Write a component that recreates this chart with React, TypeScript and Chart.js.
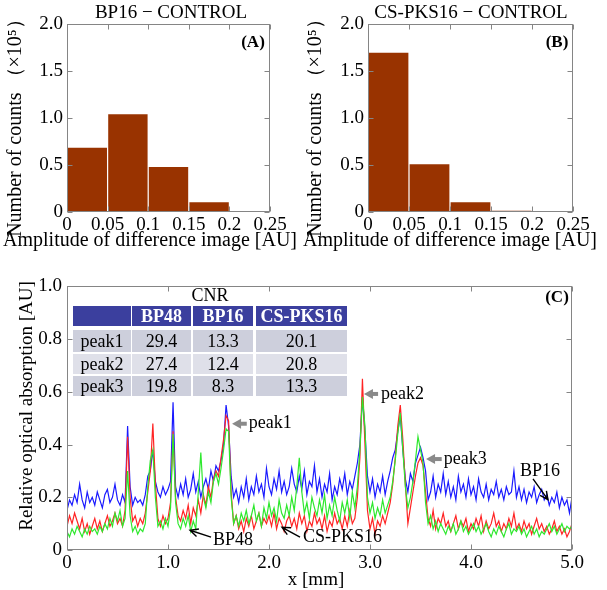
import React, { useEffect, useRef } from 'react';
import { Chart, registerables } from 'chart.js';

Chart.register(...registerables);

const FONT = "'Liberation Serif', 'Times New Roman', Times, serif";

// ---------- histogram data (counts x 10^5) ----------
const BIN_CENTERS = [0.025, 0.075, 0.125, 0.175, 0.225];
const BP16_COUNTS = [0.684, 1.039, 0.479, 0.103, 0.01];
const CSPKS16_COUNTS = [1.695, 0.507, 0.103, 0.014, 0];
const HIST_X_TICKS = [0, 0.05, 0.1, 0.15, 0.2, 0.25];
const HIST_X_LABELS = ['0', '0.05', '0.1', '0.15', '0.2', '0.25'];
const HIST_Y_TICKS = [0, 0.5, 1, 1.5, 2];
const HIST_Y_LABELS = ['0', '0.5', '1.0', '1.5', '2.0'];

// ---------- profile data ----------
const PROFILE_X_TICKS = [0, 1, 2, 3, 4, 5];
const PROFILE_X_LABELS = ['0', '1.0', '2.0', '3.0', '4.0', '5.0'];
const PROFILE_Y_TICKS = [0, 0.2, 0.4, 0.6, 0.8, 1.0];
const PROFILE_Y_LABELS = ['0', '0.2', '0.4', '0.6', '0.8', '1.0'];
const X_STEP_MM = 0.025;

const BP16_PROFILE = [
  0.15, 0.19, 0.17, 0.21, 0.18, 0.25, 0.19, 0.16, 0.22, 0.18,
  0.20, 0.17, 0.22, 0.19, 0.16, 0.21, 0.23, 0.18, 0.20, 0.25,
  0.19, 0.17, 0.21, 0.18, 0.47, 0.24, 0.17, 0.20, 0.18, 0.19,
  0.17, 0.21, 0.28, 0.30, 0.38, 0.26, 0.22, 0.20, 0.24, 0.21,
  0.23, 0.26, 0.56, 0.24, 0.20, 0.25, 0.21, 0.27, 0.20, 0.23,
  0.29, 0.22, 0.26, 0.20, 0.24, 0.27, 0.23, 0.30, 0.26, 0.32,
  0.30, 0.34, 0.40, 0.55, 0.47, 0.28, 0.20, 0.23, 0.18, 0.24,
  0.20, 0.27, 0.19, 0.24, 0.21, 0.28, 0.22, 0.25, 0.20, 0.31,
  0.24, 0.21, 0.27, 0.23, 0.30, 0.22, 0.26, 0.21, 0.24, 0.31,
  0.25, 0.22, 0.28, 0.23, 0.30, 0.21, 0.26, 0.24, 0.32, 0.22,
  0.27, 0.20, 0.25, 0.22, 0.29, 0.19, 0.24, 0.21, 0.27, 0.23,
  0.29, 0.21, 0.26, 0.23, 0.28, 0.33, 0.40, 0.58, 0.45, 0.28,
  0.22, 0.27, 0.20, 0.25, 0.22, 0.28, 0.21, 0.26, 0.30, 0.35,
  0.38, 0.45, 0.51, 0.38, 0.27, 0.22, 0.29, 0.26, 0.33, 0.36,
  0.39, 0.35, 0.30, 0.19, 0.22, 0.28, 0.20, 0.25, 0.22, 0.29,
  0.21, 0.26, 0.20, 0.24, 0.19, 0.28, 0.22, 0.25, 0.20, 0.27,
  0.21, 0.24, 0.19, 0.27, 0.22, 0.20, 0.25, 0.19, 0.23, 0.21,
  0.26, 0.20, 0.23, 0.19, 0.24, 0.21, 0.22, 0.30, 0.20, 0.24,
  0.19, 0.23, 0.18, 0.22, 0.20, 0.24, 0.18, 0.21, 0.23, 0.19,
  0.21, 0.17, 0.20, 0.18, 0.22, 0.16, 0.20, 0.17, 0.19, 0.14,
  0.20,
];

const BP48_PROFILE = [
  0.09, 0.13, 0.10, 0.14, 0.11, 0.08, 0.12, 0.07, 0.10, 0.06,
  0.09, 0.12, 0.08, 0.11, 0.07, 0.10, 0.13, 0.09, 0.11, 0.14,
  0.10, 0.12, 0.09, 0.15, 0.43, 0.20, 0.11, 0.13, 0.09, 0.12,
  0.10, 0.14, 0.22, 0.30, 0.48, 0.25, 0.12, 0.09, 0.13, 0.10,
  0.12, 0.18, 0.45, 0.20, 0.13, 0.11, 0.15, 0.12, 0.17, 0.10,
  0.16, 0.13, 0.19, 0.14, 0.21, 0.17, 0.24, 0.20, 0.27, 0.30,
  0.28, 0.35, 0.42, 0.51, 0.49, 0.22, 0.10, 0.13, 0.08, 0.11,
  0.07, 0.12, 0.09, 0.13, 0.08, 0.11, 0.14, 0.09, 0.12, 0.10,
  0.13, 0.09, 0.14, 0.08, 0.12, 0.10, 0.07, 0.11, 0.13, 0.09,
  0.12, 0.08, 0.14, 0.10, 0.13, 0.07, 0.11, 0.09, 0.14, 0.10,
  0.12, 0.08, 0.13, 0.07, 0.11, 0.09, 0.14, 0.10, 0.12, 0.08,
  0.13, 0.09, 0.15, 0.10, 0.12, 0.20, 0.35, 0.65, 0.40, 0.15,
  0.08, 0.12, 0.06, 0.11, 0.09, 0.13, 0.10, 0.14, 0.18, 0.25,
  0.35, 0.47, 0.55, 0.42, 0.25, 0.10, 0.16, 0.22, 0.28, 0.33,
  0.35, 0.32, 0.22, 0.12, 0.09, 0.15, 0.08, 0.12, 0.10, 0.14,
  0.09, 0.11, 0.07, 0.10, 0.13, 0.08, 0.11, 0.09, 0.12, 0.07,
  0.10, 0.08, 0.12, 0.09, 0.13, 0.07, 0.11, 0.08, 0.10, 0.14,
  0.09, 0.11, 0.07, 0.10, 0.08, 0.12, 0.09, 0.14, 0.08, 0.10,
  0.07, 0.11, 0.08, 0.10, 0.06, 0.09, 0.12, 0.08, 0.10, 0.07,
  0.09, 0.06, 0.08, 0.11, 0.07, 0.09, 0.06, 0.08, 0.05, 0.07,
  0.10,
];

const CSPKS16_PROFILE = [
  0.07, 0.05, 0.08, 0.06, 0.09, 0.07, 0.05, 0.08, 0.06, 0.09,
  0.07, 0.08, 0.06, 0.09, 0.07, 0.10, 0.08, 0.12, 0.09, 0.14,
  0.11, 0.15, 0.09, 0.12, 0.30, 0.13, 0.07, 0.09, 0.06, 0.08,
  0.07, 0.10, 0.24, 0.34, 0.38, 0.20, 0.09, 0.11, 0.08, 0.12,
  0.09, 0.16, 0.44, 0.18, 0.10, 0.08, 0.12, 0.09, 0.13, 0.07,
  0.11, 0.08, 0.22, 0.37, 0.20, 0.16, 0.22, 0.18, 0.26, 0.29,
  0.25, 0.31, 0.38, 0.46, 0.45, 0.20, 0.10, 0.13, 0.09, 0.14,
  0.11, 0.15, 0.10, 0.13, 0.17, 0.11, 0.14, 0.09, 0.16, 0.12,
  0.18, 0.13, 0.16, 0.11, 0.19, 0.14, 0.12, 0.17, 0.13, 0.20,
  0.15, 0.24, 0.35, 0.22, 0.14, 0.18, 0.12, 0.20, 0.16, 0.13,
  0.19, 0.14, 0.21, 0.12, 0.17, 0.13, 0.20, 0.15, 0.11, 0.18,
  0.14, 0.19, 0.12, 0.22, 0.16, 0.24, 0.38, 0.58, 0.47, 0.20,
  0.14, 0.18, 0.12, 0.16, 0.13, 0.19, 0.14, 0.17, 0.20, 0.26,
  0.34, 0.44, 0.52, 0.38, 0.24, 0.16, 0.20, 0.26, 0.34, 0.43,
  0.38, 0.33, 0.18, 0.10, 0.13, 0.08, 0.11, 0.07, 0.10, 0.08,
  0.06, 0.09, 0.07, 0.10, 0.06, 0.08, 0.11, 0.07, 0.09, 0.06,
  0.08, 0.10, 0.07, 0.09, 0.06, 0.08, 0.10, 0.07, 0.05, 0.08,
  0.06, 0.09, 0.07, 0.05, 0.08, 0.10, 0.06, 0.08, 0.07, 0.09,
  0.06, 0.08, 0.05, 0.07, 0.09, 0.06, 0.08, 0.05, 0.07, 0.06,
  0.08, 0.10, 0.07, 0.09, 0.06, 0.08, 0.10, 0.07, 0.09, 0.08,
  0.09,
];

// ---------- CNR table ----------
const CNR_COLUMNS = ['BP48', 'BP16', 'CS-PKS16'];
const CNR_ROWS = ['peak1', 'peak2', 'peak3'];
const CNR_BP48 = [29.4, 27.4, 19.8];
const CNR_BP16 = [13.3, 12.4, 8.3];
const CNR_CSPKS16 = [20.1, 20.8, 13.3];

// ---------- styling / layout ----------
const BAR_COLOR = '#993300';
const FRAME_COLOR = '#858585';
const BLUE = '#1a1aff';
const RED = '#ff2424';
const GREEN = '#2ee82e';
const HEADER_BG = '#3b3f9e';
const ROW_BG = ['#cdcfdc', '#dfe0e9', '#cdcfdc'];
const TABLE_COL_LEFT = [73, 132, 193, 256];
const TABLE_COL_WIDTH = [58, 59, 60, 91];
const TABLE_ROW_TOP = [306, 330, 354, 376];
const TABLE_ROW_HEIGHT = [20, 22, 20, 20];

type Txt = { text: string; x: number; y: number; font: string; rotate?: boolean };
type Note = {
  kind: 'gray' | 'black';
  tip: [number, number];
  tail: [number, number];
  label: string;
  at: [number, number];
  align: CanvasTextAlign;
};

function makeDecor(texts: Txt[], notes: Note[] = []) {
  return {
    id: 'decor',
    afterDraw(chart: any) {
      const { ctx, chartArea: a } = chart;
      const xs = chart.scales.x;
      const ys = chart.scales.y;
      ctx.save();
      ctx.strokeStyle = FRAME_COLOR;
      ctx.lineWidth = 1;
      const L = Math.round(a.left) + 0.5;
      const R = Math.round(a.right) - 0.5;
      const T = Math.round(a.top) + 0.5;
      const B = Math.round(a.bottom) - 0.5;
      ctx.strokeRect(L, T, R - L, B - T);
      ctx.beginPath();
      xs.ticks.forEach((t: any) => {
        const p = Math.round(xs.getPixelForValue(t.value)) + 0.5;
        ctx.moveTo(p, B); ctx.lineTo(p, B - 5);
        ctx.moveTo(p, T); ctx.lineTo(p, T + 5);
      });
      ys.ticks.forEach((t: any) => {
        const p = Math.round(ys.getPixelForValue(t.value)) + 0.5;
        ctx.moveTo(L, p); ctx.lineTo(L + 5, p);
        ctx.moveTo(R, p); ctx.lineTo(R - 5, p);
      });
      ctx.stroke();

      ctx.fillStyle = '#000';
      ctx.textBaseline = 'middle';
      texts.forEach((t) => {
        ctx.font = t.font;
        ctx.textAlign = 'center';
        if (t.rotate) {
          ctx.save();
          ctx.translate(t.x, t.y);
          ctx.rotate(-Math.PI / 2);
          ctx.fillText(t.text, 0, 0);
          ctx.restore();
        } else {
          ctx.fillText(t.text, t.x, t.y);
        }
      });

      notes.forEach((n) => {
        const tx = xs.getPixelForValue(n.tip[0]);
        const ty = ys.getPixelForValue(n.tip[1]);
        const ex = xs.getPixelForValue(n.tail[0]);
        const ey = ys.getPixelForValue(n.tail[1]);
        const ang = Math.atan2(ty - ey, tx - ex);
        if (n.kind === 'gray') {
          const head = 9;
          const half = 5;
          ctx.strokeStyle = '#8a8a8a';
          ctx.fillStyle = '#8a8a8a';
          ctx.lineWidth = 4;
          ctx.beginPath();
          ctx.moveTo(ex, ey);
          ctx.lineTo(tx - head * Math.cos(ang) * 0.8, ty - head * Math.sin(ang) * 0.8);
          ctx.stroke();
          ctx.beginPath();
          ctx.moveTo(tx, ty);
          ctx.lineTo(tx - head * Math.cos(ang) + half * Math.sin(ang), ty - head * Math.sin(ang) - half * Math.cos(ang));
          ctx.lineTo(tx - head * Math.cos(ang) - half * Math.sin(ang), ty - head * Math.sin(ang) + half * Math.cos(ang));
          ctx.closePath();
          ctx.fill();
        } else {
          ctx.strokeStyle = '#000';
          ctx.lineWidth = 1.4;
          ctx.beginPath();
          ctx.moveTo(ex, ey);
          ctx.lineTo(tx, ty);
          const hl = 9;
          const spread = 0.45;
          ctx.moveTo(tx - hl * Math.cos(ang - spread), ty - hl * Math.sin(ang - spread));
          ctx.lineTo(tx, ty);
          ctx.lineTo(tx - hl * Math.cos(ang + spread), ty - hl * Math.sin(ang + spread));
          ctx.stroke();
        }
        ctx.fillStyle = '#000';
        ctx.font = `18px ${FONT}`;
        ctx.textAlign = n.align;
        ctx.textBaseline = 'middle';
        ctx.fillText(n.label, xs.getPixelForValue(n.at[0]), ys.getPixelForValue(n.at[1]));
      });
      ctx.restore();
    },
  };
}

function axis(
  min: number,
  max: number,
  ticks: number[],
  labels: string[],
  isX: boolean,
  fit: number,
  padding: number,
  fontSize: number,
) {
  return {
    type: 'linear' as const,
    min,
    max,
    offset: false,
    grid: { display: false, drawTicks: false },
    border: { display: false },
    afterBuildTicks: (s: any) => {
      s.ticks = ticks.map((v) => ({ value: v }));
    },
    afterFit: (s: any) => {
      if (isX) s.height = fit;
      else s.width = fit;
    },
    ticks: {
      autoSkip: false,
      maxRotation: 0,
      padding,
      color: '#000',
      font: { family: FONT, size: fontSize },
      callback: (_v: any, i: number) => labels[i],
    },
  };
}

function histConfig(counts: number[], texts: Txt[], rightPad: number, yWidth: number) {
  return {
    type: 'bar' as const,
    data: {
      datasets: [
        {
          data: BIN_CENTERS.map((x, i) => ({ x, y: counts[i] })),
          backgroundColor: BAR_COLOR,
          borderWidth: 0,
          barPercentage: 1,
          categoryPercentage: 0.97,
        },
      ],
    },
    options: {
      animation: false as const,
      responsive: false,
      events: [],
      layout: { padding: { top: 24, right: rightPad, left: 0, bottom: 0 } },
      plugins: { legend: { display: false }, tooltip: { enabled: false } },
      scales: {
        x: axis(0, 0.25, HIST_X_TICKS, HIST_X_LABELS, true, 40, 2, 19),
        y: axis(0, 2, HIST_Y_TICKS, HIST_Y_LABELS, false, yWidth, 4, 19),
      },
    },
    plugins: [makeDecor(texts)],
  };
}

const toPoints = (vals: number[]) => vals.map((y, i) => ({ x: i * X_STEP_MM, y }));

export default function App() {
  const aRef = useRef<HTMLCanvasElement>(null);
  const bRef = useRef<HTMLCanvasElement>(null);
  const cRef = useRef<HTMLCanvasElement>(null);

  useEffect(() => {
    Chart.defaults.font.family = FONT;
    Chart.defaults.color = '#000';

    const chartA = new Chart(
      aRef.current!,
      histConfig(
        BP16_COUNTS,
        [
          { text: 'BP16 − CONTROL', x: 171, y: 13, font: `19px ${FONT}` },
          { text: '(A)', x: 253, y: 43, font: `bold 17px ${FONT}` },
          { text: 'Amplitude of difference image [AU]', x: 150, y: 241, font: `20px ${FONT}` },
          { text: 'Number of counts （×10⁵）', x: 16, y: 123, font: `20px ${FONT}`, rotate: true },
        ],
        30,
        67,
      ) as any,
    );

    const chartB = new Chart(
      bRef.current!,
      histConfig(
        CSPKS16_COUNTS,
        [
          { text: 'CS-PKS16 − CONTROL', x: 171, y: 13, font: `19px ${FONT}` },
          { text: '(B)', x: 257, y: 43, font: `bold 17px ${FONT}` },
          { text: 'Amplitude of difference image [AU]', x: 150, y: 241, font: `20px ${FONT}` },
          { text: 'Number of counts （×10⁵）', x: 16, y: 123, font: `20px ${FONT}`, rotate: true },
        ],
        34,
        68,
      ) as any,
    );

    const notes: Note[] = [
      { kind: 'gray', tip: [1.634, 0.479], tail: [1.78, 0.479], label: 'peak1', at: [1.80, 0.479], align: 'left' },
      { kind: 'gray', tip: [2.94, 0.592], tail: [3.08, 0.592], label: 'peak2', at: [3.11, 0.592], align: 'left' },
      { kind: 'gray', tip: [3.555, 0.345], tail: [3.71, 0.345], label: 'peak3', at: [3.73, 0.345], align: 'left' },
      { kind: 'black', tip: [1.218, 0.075], tail: [1.426, 0.049], label: 'BP48', at: [1.446, 0.037], align: 'left' },
      { kind: 'black', tip: [2.129, 0.086], tail: [2.307, 0.049], label: 'CS-PKS16', at: [2.337, 0.049], align: 'left' },
      { kind: 'black', tip: [4.762, 0.191], tail: [4.614, 0.27], label: 'BP16', at: [4.683, 0.30], align: 'center' },
    ];

    const chartC = new Chart(cRef.current!, {
      type: 'line',
      data: {
        datasets: [
          { label: 'CS-PKS16', data: toPoints(CSPKS16_PROFILE), borderColor: GREEN, borderWidth: 1.2, pointRadius: 0, tension: 0 },
          { label: 'BP48', data: toPoints(BP48_PROFILE), borderColor: RED, borderWidth: 1.2, pointRadius: 0, tension: 0 },
          { label: 'BP16', data: toPoints(BP16_PROFILE), borderColor: BLUE, borderWidth: 1.2, pointRadius: 0, tension: 0 },
        ],
      },
      options: {
        animation: false,
        responsive: false,
        events: [],
        layout: { padding: { top: 13, right: 35, left: 0, bottom: 0 } },
        plugins: { legend: { display: false }, tooltip: { enabled: false } },
        scales: {
          x: axis(0, 5, PROFILE_X_TICKS, PROFILE_X_LABELS, true, 40, 2, 19),
          y: axis(0, 1, PROFILE_Y_TICKS, PROFILE_Y_LABELS, false, 67, 5, 19),
        },
      } as any,
      plugins: [
        makeDecor(
          [
            { text: '(C)', x: 557, y: 28, font: `bold 17px ${FONT}` },
            { text: 'x [mm]', x: 316, y: 310, font: `19px ${FONT}` },
            { text: 'Relative optical absorption [AU]', x: 27, y: 136, font: `19px ${FONT}`, rotate: true },
          ],
          notes,
        ),
      ] as any,
    });

    return () => {
      chartA.destroy();
      chartB.destroy();
      chartC.destroy();
    };
  }, []);

  const cell = (left: number, top: number, width: number, height: number, bg: string, color: string, bold: boolean, text: string, key: string) => (
    <div
      key={key}
      style={{
        position: 'absolute',
        left,
        top,
        width,
        height,
        lineHeight: `${height}px`,
        background: bg,
        color,
        fontWeight: bold ? 'bold' : 'normal',
        textAlign: 'center',
        fontFamily: FONT,
        fontSize: 18,
        whiteSpace: 'nowrap',
      }}
    >
      {text}
    </div>
  );

  const tableCells: React.ReactNode[] = [];
  ['', ...CNR_COLUMNS].forEach((h, c) => {
    tableCells.push(cell(TABLE_COL_LEFT[c], TABLE_ROW_TOP[0], TABLE_COL_WIDTH[c], TABLE_ROW_HEIGHT[0], HEADER_BG, '#fff', true, h, `h${c}`));
  });
  CNR_ROWS.forEach((r, i) => {
    const vals = [r, CNR_BP48[i].toFixed(1), CNR_BP16[i].toFixed(1), CNR_CSPKS16[i].toFixed(1)];
    vals.forEach((v, c) => {
      tableCells.push(cell(TABLE_COL_LEFT[c], TABLE_ROW_TOP[i + 1], TABLE_COL_WIDTH[c], TABLE_ROW_HEIGHT[i + 1], ROW_BG[i], '#000', false, v, `r${i}c${c}`));
    });
  });

  const tableLeft = TABLE_COL_LEFT[0];
  const tableRight = TABLE_COL_LEFT[3] + TABLE_COL_WIDTH[3];

  return (
    <div style={{ position: 'absolute', left: 0, top: 0, width: 607, height: 590, background: '#fff', overflow: 'hidden' }}>
      <canvas ref={aRef} width={300} height={252} style={{ position: 'absolute', left: 0, top: 0, width: 300, height: 252 }} />
      <canvas ref={bRef} width={307} height={252} style={{ position: 'absolute', left: 300, top: 0, width: 307, height: 252 }} />
      <canvas ref={cRef} width={607} height={320} style={{ position: 'absolute', left: 0, top: 270, width: 607, height: 320 }} />
      <div
        style={{
          position: 'absolute',
          left: tableLeft,
          top: 285,
          width: tableRight - tableLeft,
          height: 20,
          lineHeight: '20px',
          textAlign: 'center',
          fontFamily: FONT,
          fontSize: 18,
          color: '#000',
        }}
      >
        CNR
      </div>
      {tableCells}
    </div>
  );
}
